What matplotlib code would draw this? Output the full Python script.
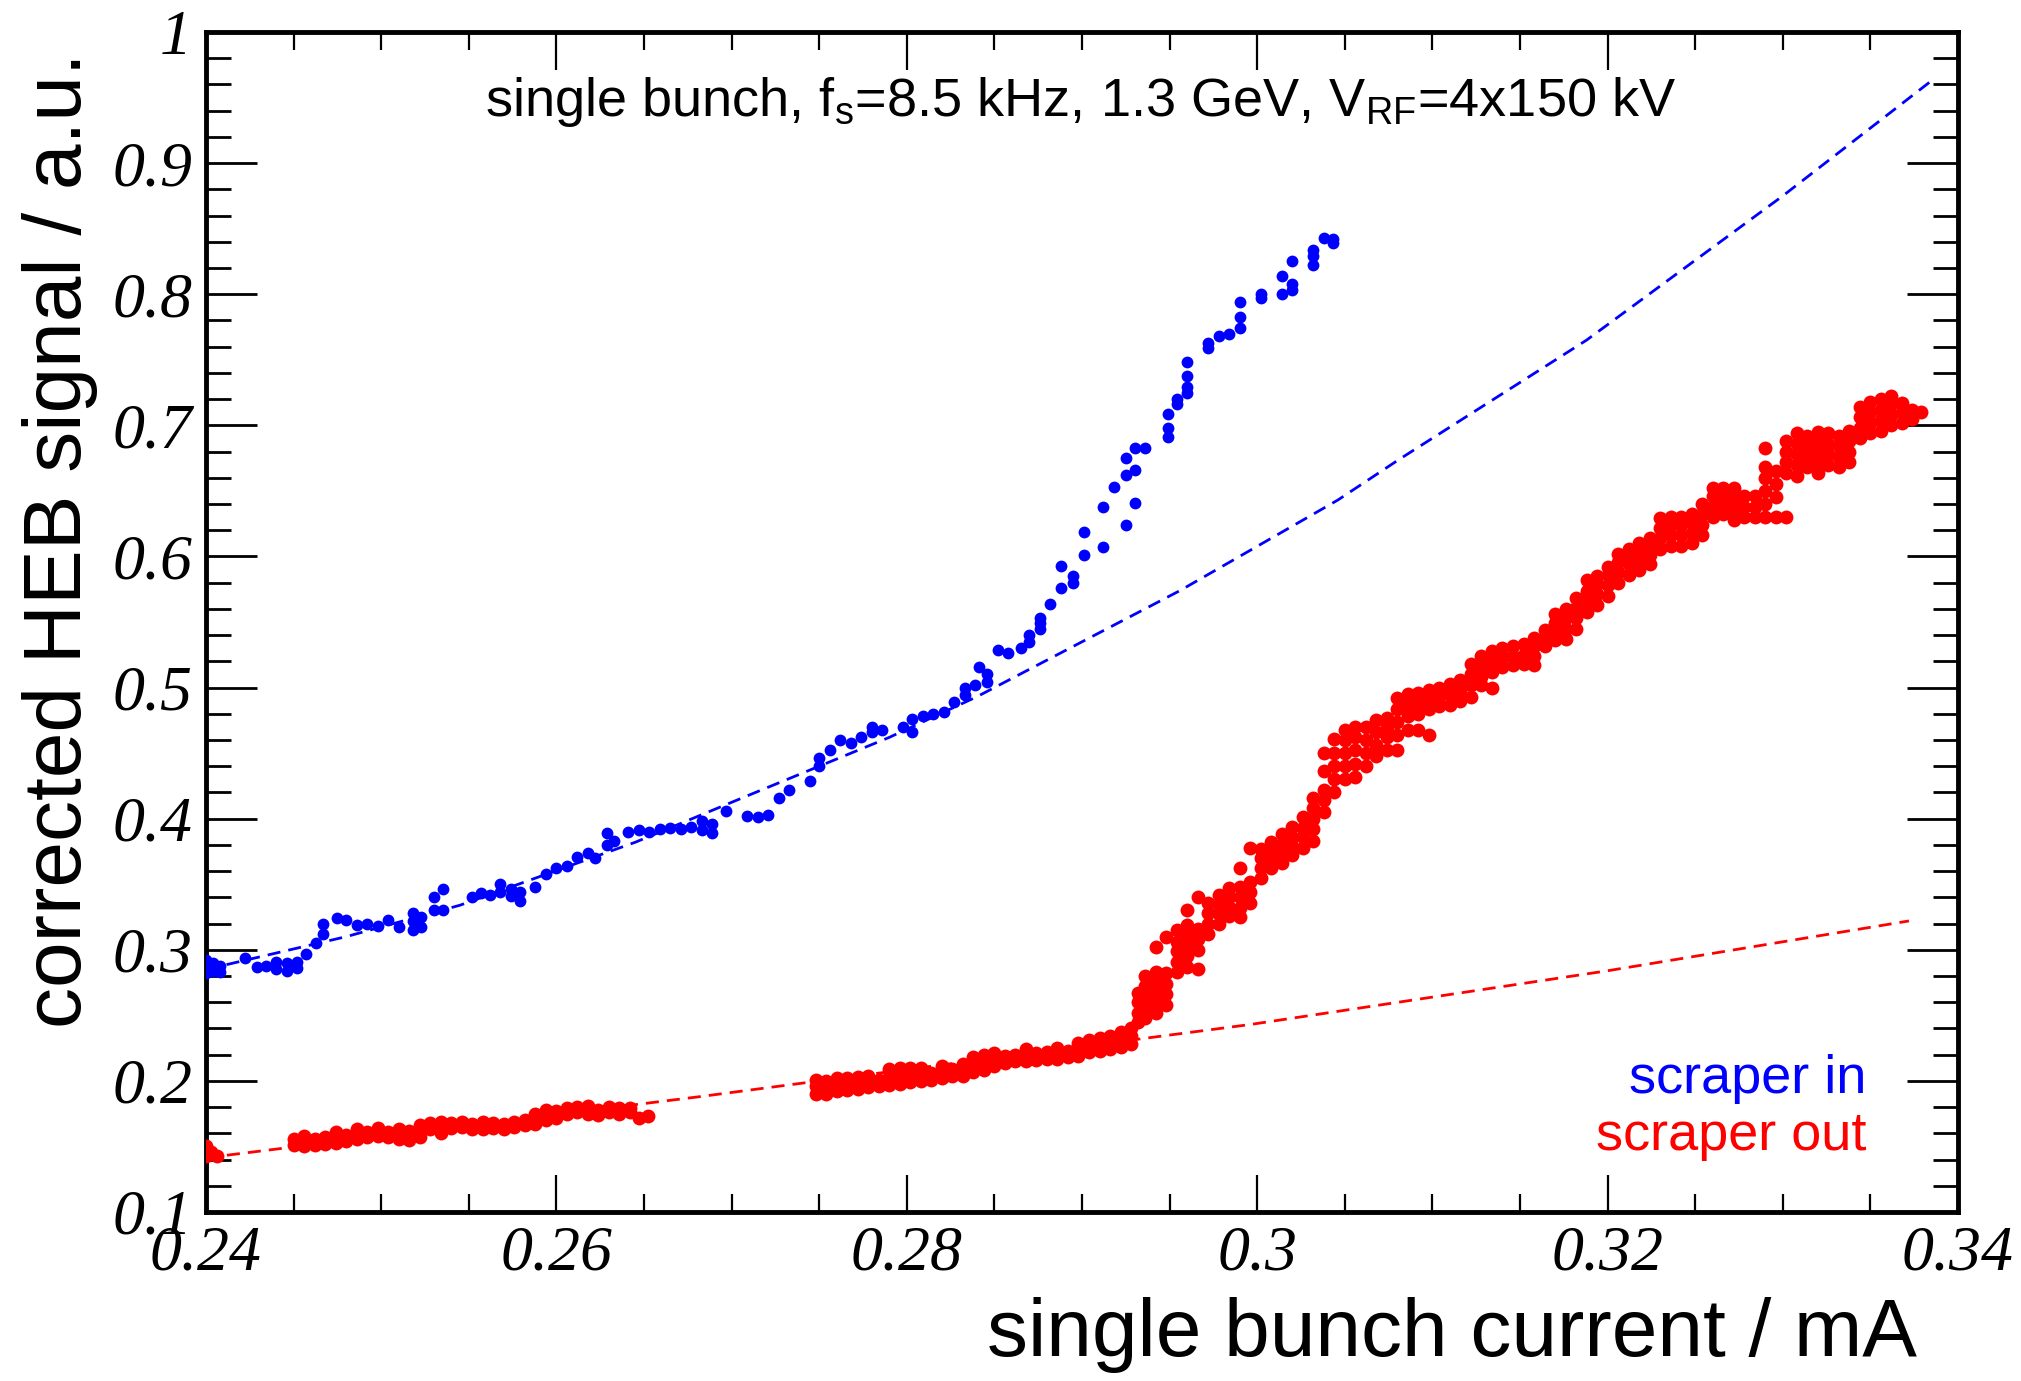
import numpy as np
import matplotlib
matplotlib.use('Agg')
import matplotlib.pyplot as plt
from matplotlib.ticker import MultipleLocator, FormatStrFormatter

plt.rcParams['mathtext.default'] = 'regular'
plt.rcParams['font.family'] = ['Liberation Sans', 'DejaVu Sans']

# scraper in (blue): x column -> y values
blue_x = [0.2400, 0.2404, 0.2408, 0.2422, 0.2429, 0.2434, 0.2440, 0.2446, 0.2452, 0.2457,
          0.2463, 0.2467, 0.2475, 0.2480, 0.2486, 0.2492, 0.2498, 0.2504, 0.2510, 0.2518,
          0.2523, 0.2530, 0.2535, 0.2552, 0.2557, 0.2562, 0.2568, 0.2574, 0.2579, 0.2588,
          0.2594, 0.2600, 0.2606, 0.2612, 0.2618, 0.2622, 0.2629, 0.2633, 0.2641, 0.2647,
          0.2653, 0.2659, 0.2665, 0.2671, 0.2677, 0.2683, 0.2689, 0.2697, 0.2709, 0.2715,
          0.2721, 0.2727, 0.2733, 0.2745, 0.2750, 0.2756, 0.2762, 0.2768, 0.2774, 0.2780,
          0.2786, 0.2798, 0.2803, 0.2809, 0.2815, 0.2821, 0.2827, 0.2833, 0.2839, 0.2841,
          0.2846, 0.2852, 0.2858, 0.2865, 0.2870, 0.2876, 0.2882, 0.2888, 0.2895, 0.2901,
          0.2912, 0.2918, 0.2925, 0.2930, 0.2936, 0.2949, 0.2954, 0.2960, 0.2972, 0.2978,
          0.2984, 0.2990, 0.3002, 0.3014, 0.3020, 0.3032, 0.3038, 0.3043]
blue_y = [[0.282, 0.287, 0.292], [0.284, 0.290], [0.283, 0.288], [0.294], [0.287], [0.288],
          [0.285, 0.291], [0.284, 0.290], [0.286, 0.291], [0.297],
          [0.305], [0.312, 0.320], [0.324], [0.323], [0.319], [0.320], [0.318], [0.323], [0.317],
          [0.315, 0.322, 0.328],
          [0.317, 0.325], [0.330, 0.340], [0.330, 0.346], [0.340], [0.343], [0.342], [0.344, 0.350],
          [0.341, 0.346], [0.337, 0.344], [0.348],
          [0.358], [0.362], [0.364], [0.371], [0.374], [0.370], [0.380, 0.389], [0.383], [0.390], [0.391],
          [0.390], [0.392], [0.393], [0.392], [0.394], [0.391, 0.398], [0.389, 0.396], [0.406], [0.402], [0.401],
          [0.403], [0.416], [0.422], [0.429], [0.440, 0.446], [0.452], [0.460], [0.458], [0.462], [0.466, 0.470],
          [0.468], [0.470], [0.466, 0.476], [0.478], [0.480], [0.481], [0.489], [0.494, 0.500], [0.502], [0.516],
          [0.504, 0.510], [0.529], [0.526], [0.530], [0.535, 0.540], [0.545, 0.549, 0.553], [0.564],
          [0.576, 0.593], [0.580, 0.585], [0.601, 0.619],
          [0.607, 0.638], [0.653], [0.624, 0.662, 0.675], [0.641, 0.666, 0.683], [0.683],
          [0.691, 0.698, 0.709], [0.716, 0.720], [0.725, 0.729, 0.738, 0.748], [0.759, 0.763], [0.768],
          [0.770], [0.774, 0.783, 0.794], [0.797, 0.800], [0.800, 0.814], [0.803, 0.808, 0.825],
          [0.822, 0.829, 0.834], [0.843], [0.839, 0.842]]

# scraper out (red)
red_x = [0.2400, 0.2403, 0.2406,
         0.2450, 0.2456, 0.2462, 0.2468, 0.2474, 0.2480, 0.2486, 0.2492, 0.2498, 0.2504,
         0.2510, 0.2516, 0.2522, 0.2528, 0.2534, 0.2540, 0.2546, 0.2552, 0.2558, 0.2564,
         0.2570, 0.2576, 0.2582, 0.2588, 0.2594, 0.2600, 0.2606, 0.2612, 0.2618, 0.2624,
         0.2630, 0.2636, 0.2642, 0.2647, 0.2652,
         0.2748, 0.2754, 0.2760, 0.2766, 0.2772, 0.2778, 0.2784, 0.2790, 0.2796, 0.2802,
         0.2808, 0.2814, 0.2820, 0.2826, 0.2832, 0.2838, 0.2844, 0.2850, 0.2856, 0.2862,
         0.2868, 0.2874, 0.2880, 0.2886, 0.2892, 0.2898, 0.2904, 0.2910, 0.2916, 0.2922,
         0.2928, 0.2932,
         0.2936, 0.2942, 0.2948, 0.2954, 0.2960, 0.2966, 0.2972, 0.2978, 0.2984, 0.2990,
         0.2996, 0.3002, 0.3008, 0.3014, 0.3020, 0.3026, 0.3032, 0.3038, 0.3044, 0.3050,
         0.3056, 0.3062, 0.3068, 0.3074, 0.3080, 0.3086, 0.3092, 0.3098, 0.3104, 0.3110,
         0.3116, 0.3122, 0.3128, 0.3134, 0.3140, 0.3146, 0.3152, 0.3158, 0.3164, 0.3170,
         0.3176, 0.3182, 0.3188, 0.3194, 0.3200, 0.3206, 0.3212, 0.3218, 0.3224, 0.3230,
         0.3236, 0.3242, 0.3248, 0.3254, 0.3260, 0.3266, 0.3272, 0.3278, 0.3284, 0.3290,
         0.3296, 0.3302, 0.3308, 0.3314, 0.3320, 0.3326, 0.3332, 0.3338, 0.3344, 0.3350,
         0.3356, 0.3362, 0.3368, 0.3374, 0.3379]
red_y = [[0.143, 0.150], [0.146], [0.143],
         [0.151, 0.156], [0.150, 0.155, 0.158], [0.151, 0.156], [0.152, 0.157], [0.153, 0.158, 0.161],
         [0.154, 0.159], [0.156, 0.160, 0.163], [0.157, 0.161], [0.158, 0.162, 0.164], [0.157, 0.161],
         [0.156, 0.160, 0.163], [0.155, 0.159, 0.162], [0.157, 0.162, 0.166], [0.163, 0.168],
         [0.160, 0.165, 0.169], [0.164, 0.168], [0.165, 0.169], [0.163, 0.167], [0.163, 0.166, 0.169],
         [0.164, 0.168],
         [0.163, 0.167], [0.165, 0.169], [0.166, 0.170], [0.167, 0.172, 0.175], [0.170, 0.175, 0.178],
         [0.172, 0.177], [0.175, 0.179], [0.176, 0.180], [0.175, 0.179, 0.181], [0.174, 0.178],
         [0.176, 0.180], [0.175, 0.179], [0.176, 0.179], [0.172], [0.173],
         [0.190, 0.196, 0.201], [0.190, 0.195, 0.200], [0.192, 0.197, 0.202], [0.193, 0.198, 0.202],
         [0.194, 0.199, 0.203], [0.195, 0.200, 0.204], [0.196, 0.201], [0.197, 0.203, 0.209],
         [0.198, 0.204, 0.210], [0.199, 0.205, 0.210],
         [0.200, 0.206, 0.210], [0.201, 0.206], [0.202, 0.207, 0.211], [0.204, 0.209],
         [0.204, 0.209, 0.213], [0.207, 0.213, 0.218], [0.208, 0.214, 0.220], [0.211, 0.216, 0.221],
         [0.214, 0.219], [0.215, 0.220],
         [0.215, 0.220, 0.224], [0.216, 0.221], [0.217, 0.222], [0.217, 0.222, 0.225], [0.218, 0.223],
         [0.219, 0.224, 0.229], [0.222, 0.227, 0.231], [0.223, 0.228, 0.233], [0.224, 0.229, 0.234],
         [0.226, 0.231, 0.237],
         [0.228, 0.234, 0.240], [0.245, 0.252, 0.260, 0.267],
         [0.248, 0.256, 0.264, 0.272, 0.280], [0.252, 0.260, 0.268, 0.276, 0.283, 0.302],
         [0.258, 0.266, 0.274, 0.282, 0.310], [0.283, 0.291, 0.299, 0.306, 0.315],
         [0.287, 0.295, 0.303, 0.311, 0.319, 0.330], [0.285, 0.300, 0.308, 0.316, 0.340],
         [0.312, 0.320, 0.328, 0.336], [0.320, 0.327, 0.334, 0.342], [0.326, 0.333, 0.340, 0.347],
         [0.325, 0.332, 0.340, 0.348, 0.362],
         [0.336, 0.344, 0.352, 0.378], [0.355, 0.362, 0.370, 0.377], [0.362, 0.368, 0.375, 0.382],
         [0.366, 0.373, 0.380, 0.388], [0.372, 0.379, 0.386, 0.394], [0.378, 0.386, 0.393, 0.401],
         [0.383, 0.392, 0.400, 0.408, 0.416], [0.405, 0.414, 0.422, 0.436, 0.450],
         [0.420, 0.430, 0.440, 0.450, 0.461], [0.430, 0.440, 0.450, 0.460, 0.468],
         [0.432, 0.442, 0.452, 0.462, 0.470], [0.440, 0.450, 0.460, 0.470], [0.448, 0.456, 0.466, 0.475],
         [0.452, 0.462, 0.470, 0.477], [0.452, 0.464, 0.474, 0.484, 0.492], [0.468, 0.478, 0.487, 0.495],
         [0.468, 0.480, 0.488, 0.496], [0.464, 0.484, 0.492, 0.498], [0.486, 0.493, 0.500],
         [0.487, 0.495, 0.503],
         [0.490, 0.498, 0.506], [0.493, 0.502, 0.510, 0.518], [0.502, 0.508, 0.516, 0.524],
         [0.500, 0.512, 0.520, 0.528], [0.516, 0.523, 0.530], [0.517, 0.524, 0.532], [0.518, 0.525, 0.533],
         [0.517, 0.524, 0.532, 0.538], [0.532, 0.538, 0.544], [0.536, 0.542, 0.549, 0.556],
         [0.537, 0.545, 0.553, 0.560], [0.545, 0.553, 0.561, 0.568], [0.558, 0.566, 0.574, 0.582],
         [0.563, 0.571, 0.579, 0.585], [0.570, 0.578, 0.586, 0.592], [0.580, 0.588, 0.596, 0.602],
         [0.586, 0.594, 0.600, 0.606], [0.590, 0.597, 0.604, 0.610], [0.594, 0.601, 0.608, 0.614],
         [0.606, 0.614, 0.622, 0.629],
         [0.608, 0.616, 0.624, 0.630], [0.608, 0.616, 0.624, 0.630], [0.610, 0.618, 0.626, 0.632],
         [0.616, 0.624, 0.632, 0.640], [0.630, 0.638, 0.646, 0.652], [0.632, 0.640, 0.648, 0.652],
         [0.628, 0.636, 0.644, 0.652], [0.630, 0.638, 0.646], [0.630, 0.638, 0.646],
         [0.630, 0.640, 0.650, 0.660, 0.668, 0.683],
         [0.630, 0.645, 0.655, 0.665], [0.630, 0.664, 0.672, 0.680, 0.688],
         [0.661, 0.670, 0.678, 0.686, 0.694], [0.668, 0.676, 0.684, 0.692],
         [0.664, 0.672, 0.680, 0.688, 0.695], [0.670, 0.678, 0.686, 0.694], [0.668, 0.676, 0.684, 0.692],
         [0.672, 0.680, 0.688, 0.696], [0.690, 0.698, 0.706, 0.714], [0.694, 0.702, 0.710, 0.718],
         [0.696, 0.704, 0.712, 0.720], [0.700, 0.708, 0.716, 0.722], [0.702, 0.710, 0.717],
         [0.705, 0.712], [0.710]]

# dashed fit curves
blue_fit_x = [0.2400, 0.2480, 0.2545, 0.2645, 0.2710, 0.2790, 0.2840, 0.2956, 0.3046, 0.3081,
              0.3188, 0.3300, 0.3386]
blue_fit_y = [0.285, 0.310, 0.334, 0.382, 0.418, 0.462, 0.493, 0.574, 0.643, 0.674,
              0.765, 0.875, 0.964]
red_fit_x = [0.2400, 0.2410, 0.2682, 0.2733, 0.2996, 0.3200, 0.3372]
red_fit_y = [0.141, 0.143, 0.188, 0.197, 0.243, 0.284, 0.322]

W, H = 2021, 1381
fig = plt.figure(figsize=(W / 100, H / 100), dpi=100)
ax = fig.add_axes([206 / W, 1 - 1212 / H, 1752 / W, 1180 / H])

ax.plot(blue_fit_x, blue_fit_y, color='#0000ff', lw=2, linestyle=(0, (4.7, 2.9)), zorder=2)
ax.plot(red_fit_x, red_fit_y, color='#ff0000', lw=2, linestyle=(0, (4.7, 2.9)), zorder=2)

bx = [x for x, ys in zip(blue_x, blue_y) for _ in ys]
by = [y for ys in blue_y for y in ys]
rx = [x for x, ys in zip(red_x, red_y) for _ in ys]
ry = [y for ys in red_y for y in ys]
ax.plot(rx, ry, 'o', color='#ff0000', ms=10, mew=0, zorder=3)
ax.plot(bx, by, 'o', color='#0000ff', ms=8.5, mew=0, zorder=3)

ax.set_xlim(0.24, 0.34)
ax.set_ylim(0.1, 1.0)

ax.xaxis.set_major_locator(MultipleLocator(0.02))
ax.xaxis.set_minor_locator(MultipleLocator(0.005))
ax.yaxis.set_major_locator(MultipleLocator(0.1))
ax.yaxis.set_minor_locator(MultipleLocator(0.02))
ax.xaxis.set_major_formatter(FormatStrFormatter('%g'))
ax.yaxis.set_major_formatter(FormatStrFormatter('%g'))

for s in ax.spines.values():
    s.set_linewidth(3.5)
ax.tick_params(axis='y', which='both', direction='in', left=True, right=True, width=2)
ax.tick_params(axis='y', which='major', length=37, pad=10)
ax.tick_params(axis='y', which='minor', length=18)
ax.tick_params(axis='x', which='both', direction='in', bottom=True, top=True, width=1.6)
ax.tick_params(axis='x', which='major', length=27, pad=10)
ax.tick_params(axis='x', which='minor', length=13)
for lab in ax.get_xticklabels() + ax.get_yticklabels():
    lab.set_family(['Liberation Serif', 'DejaVu Serif'])
    lab.set_style('italic')
    lab.set_fontsize(46)

fig.text(60 / W, 1 - 52 / H, 'corrected HEB signal / a.u.', rotation=90,
         ha='center', va='top', fontsize=59)
fig.text(1917 / W, 1 - 1356 / H, 'single bunch current / mA',
         ha='right', va='baseline', fontsize=59)
fig.text(1081 / W, 1 - 116 / H,
         r'single bunch, f$_{s}$=8.5 kHz, 1.3 GeV, V$_{RF}$=4x150 kV',
         ha='center', va='baseline', fontsize=39)
fig.text(1866 / W, 1 - 1093 / H, 'scraper in', color='#0000ff',
         ha='right', va='baseline', fontsize=39)
fig.text(1866 / W, 1 - 1150 / H, 'scraper out', color='#ff0000',
         ha='right', va='baseline', fontsize=39)

fig.savefig('out.png', dpi=100)
